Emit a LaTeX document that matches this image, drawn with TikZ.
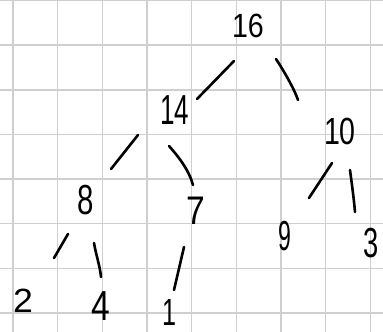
\documentclass[tikz,border=0pt]{standalone}
\usepackage{fontspec}
\setmainfont{Liberation Sans}
\begin{document}
\begin{tikzpicture}[x=1pt,y=-1pt,
  gridline/.style={draw=black!19,line width=1.4pt},
  stroke/.style={draw=black,line width=2.6pt,line cap=round},
  lbl/.style={inner sep=0pt,font=\fontsize{42}{42}\selectfont}]
\useasboundingbox[fill=white] (0,0) rectangle (383,332);
% grid
\foreach \i in {0,...,8} {\draw[gridline] (13+44.65*\i,0) -- (13+44.65*\i,332);}
\foreach \j in {0,...,7} {\draw[gridline] (0,0.5+44.65*\j) -- (383,0.5+44.65*\j);}
% nodes
\node[lbl] (n16) at (248,26) {\scalebox{0.68}[0.8]{16}};
\node[lbl] (n14) at (175,110) {\scalebox{0.62}[1]{14}};
\node[lbl] (n10) at (340,131) {\scalebox{0.68}[0.9]{10}};
\node[lbl] (n8) at (86,200) {\scalebox{0.7}[1]{8}};
\node[lbl] (n7) at (196,211) {\scalebox{0.8}[0.95]{7}};
\node[lbl] (n9) at (285,236) {\scalebox{0.55}[1]{9}};
\node[lbl] (n3) at (371,243) {\scalebox{0.65}[1]{3}};
\node[lbl] (n2) at (23,301) {\scalebox{0.85}[0.8]{2}};
\node[lbl] (n4) at (101,306) {\scalebox{0.8}[1]{4}};
\node[lbl] (n1) at (170,312) {\scalebox{0.6}[0.9]{1}};
% connector end points
\coordinate (a1) at (234,61);  \coordinate (b1) at (197,99);
\coordinate (a2) at (276,59);  \coordinate (b2) at (298,100);
\coordinate (a3) at (138,135); \coordinate (b3) at (111,169);
\coordinate (a4) at (169,146); \coordinate (b4) at (193,185);
\coordinate (a5) at (332,163); \coordinate (b5) at (309,198);
\coordinate (a6) at (350,170); \coordinate (b6) at (355,212);
\coordinate (a7) at (68,234);  \coordinate (b7) at (54,258);
\coordinate (a8) at (94,243);  \coordinate (b8) at (101,277);
\coordinate (a9) at (184,247); \coordinate (b9) at (174,290);
% connectors
\draw[stroke] (a1) -- (b1);
\draw[stroke] (a2) .. controls (282,68) and (294,88) .. (b2);
\draw[stroke] (a3) -- (b3);
\draw[stroke] (a4) .. controls (178,156) and (189,170) .. (b4);
\draw[stroke] (a5) -- (b5);
\draw[stroke] (a6) .. controls (352,185) and (354,200) .. (b6);
\draw[stroke] (a7) -- (b7);
\draw[stroke] (a8) .. controls (96,255) and (100,266) .. (b8);
\draw[stroke] (a9) -- (b9);
\end{tikzpicture}
\end{document}
